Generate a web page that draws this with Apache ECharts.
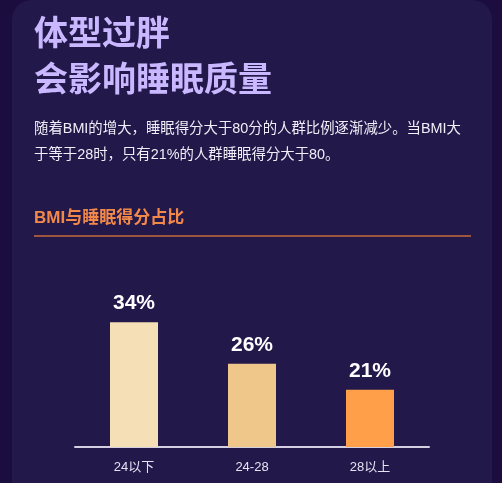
<!DOCTYPE html>
<html>
<head>
<meta charset="utf-8">
<script src="https://cdn.jsdelivr.net/npm/echarts@6/dist/echarts.min.js"></script>
<style>
html,body{margin:0;padding:0;background:#1b0e3e;}
#c{width:502px;height:483px;}
</style>
</head>
<body>
<div id="c"></div>
<script>
const categories = ['24以下', '24-28', '28以上'];
const values = [34, 26, 21];
const barColors = ['#f5dfb6', '#f0c78b', '#ff9f4a'];
const titleLines = ['体型过胖', '会影响睡眠质量'];
const subtitleLines = ['随着BMI的增大，睡眠得分大于80分的人群比例逐渐减少。当BMI大', '于等于28时，只有21%的人群睡眠得分大于80。'];
const sectionTitle = 'BMI与睡眠得分占比';

const font = '"Liberation Sans", "Noto Sans CJK SC", sans-serif';
const chart = echarts.init(document.getElementById('c'));
chart.setOption({
  backgroundColor: '#1b0e3e',
  animation: false,
  graphic: [
    { type: 'rect', z: -10, shape: { x: 12, y: 0, width: 480, height: 540, r: 20 }, style: { fill: '#22184a' } },
    { type: 'text', left: 34, top: 13, style: { text: titleLines.join('\n'), font: 'bold 34px ' + font, fill: '#c9b7ff', lineHeight: 46 } },
    { type: 'text', left: 34, top: 116, style: { text: subtitleLines.join('\n'), font: '14.4px ' + font, fill: '#f0eef8', lineHeight: 26 } },
    { type: 'text', left: 34, top: 210, style: { text: sectionTitle, font: 'bold 17px ' + font, fill: '#f2894a' } },
    { type: 'line', shape: { x1: 34, y1: 236, x2: 471, y2: 236 }, style: { stroke: '#c8683a', lineWidth: 1.5 } }
  ],
  grid: { left: 75, width: 354, bottom: 36, top: 291 },
  xAxis: {
    type: 'category',
    data: categories,
    axisLine: { lineStyle: { color: '#d4d0e2', width: 2 } },
    axisTick: { show: false },
    axisLabel: { color: '#e6e2f2', fontSize: 13, margin: 14, fontFamily: font }
  },
  yAxis: { type: 'value', min: 10, max: 40, show: false },
  series: [{
    type: 'bar',
    barWidth: 48,
    data: values.map((v, i) => ({ value: v, itemStyle: { color: barColors[i] } })),
    label: {
      show: true, position: 'top', distance: 8,
      formatter: '{c}%', color: '#ffffff', fontSize: 21, fontWeight: 'bold', fontFamily: font
    }
  }]
});
</script>
</body>
</html>
